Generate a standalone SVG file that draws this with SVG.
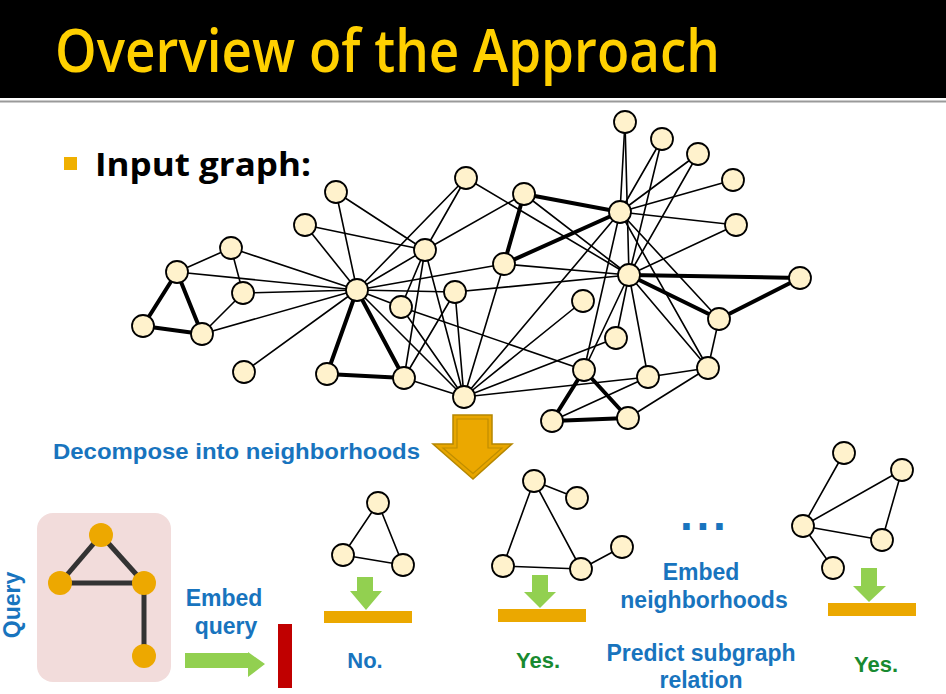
<svg xmlns="http://www.w3.org/2000/svg" width="946" height="694" viewBox="0 0 946 694">
  <defs>
    <style>
      .title { font-family: "Open Sans", "Noto Sans", sans-serif; font-weight: 600; fill: #FFD000; }
      .bullet { font-family: "Open Sans", "Liberation Sans", sans-serif; font-weight: 700; fill: #000; }
      .lbl { font-family: "Liberation Sans", Arial, sans-serif; font-weight: 700; font-size: 23px; fill: #1874BE; }
      .yes { font-family: "Liberation Sans", Arial, sans-serif; font-weight: 700; font-size: 22px; fill: #188A30; }
      .node circle, circle.nd { fill: #FFF2CC; stroke: #000; stroke-width: 1.8; }
      .edge { stroke: #000; stroke-width: 1.6; fill: none; stroke-linecap: round; }
      .thick { stroke: #000; stroke-width: 4; fill: none; stroke-linecap: round; }
      .qedge { stroke: #333; stroke-width: 5; fill: none; }
      .qnode { fill: #EDA800; }
      .bar { fill: #EBA800; }
      .garrow { fill: #92D050; }
    </style>
  </defs>

  <!-- title band -->
  <rect x="0" y="0" width="946" height="98" fill="#000"/>
  <line x1="0" y1="101.5" x2="946" y2="101.5" stroke="#9a9a9a" stroke-width="2"/>
  <text class="title" x="55" y="72" font-size="60" textLength="665" lengthAdjust="spacingAndGlyphs">Overview of the Approach</text>

  <!-- bullet -->
  <rect x="64" y="157" width="13" height="13" fill="#F0B000"/>
  <text class="bullet" x="95" y="176" font-size="32" textLength="216" lengthAdjust="spacingAndGlyphs">Input graph:</text>

  <!-- input graph connectors -->
  <g id="graph-edges">
    <line class="edge" x1="625" y1="122" x2="620" y2="212"/>
    <line class="edge" x1="625" y1="122" x2="629" y2="275"/>
    <line class="edge" x1="662" y1="139" x2="620" y2="212"/>
    <line class="edge" x1="662" y1="139" x2="629" y2="275"/>
    <line class="edge" x1="698" y1="154" x2="620" y2="212"/>
    <line class="edge" x1="698" y1="154" x2="629" y2="275"/>
    <line class="edge" x1="733" y1="180" x2="620" y2="212"/>
    <line class="edge" x1="736" y1="225" x2="620" y2="212"/>
    <line class="edge" x1="736" y1="225" x2="629" y2="275"/>
    <line class="edge" x1="620" y1="212" x2="584" y2="370"/>
    <line class="edge" x1="620" y1="212" x2="719" y2="319"/>
    <line class="edge" x1="620" y1="212" x2="708" y2="368"/>
    <line class="edge" x1="620" y1="212" x2="464" y2="397"/>
    <line class="edge" x1="629" y1="275" x2="616" y2="338"/>
    <line class="edge" x1="629" y1="275" x2="584" y2="370"/>
    <line class="edge" x1="629" y1="275" x2="648" y2="377"/>
    <line class="edge" x1="629" y1="275" x2="708" y2="368"/>
    <line class="edge" x1="629" y1="275" x2="524" y2="194"/>
    <line class="edge" x1="629" y1="275" x2="504" y2="264"/>
    <line class="edge" x1="629" y1="275" x2="466" y2="178"/>
    <line class="edge" x1="629" y1="275" x2="455" y2="292"/>
    <line class="edge" x1="719" y1="319" x2="708" y2="368"/>
    <line class="edge" x1="708" y1="368" x2="648" y2="377"/>
    <line class="edge" x1="708" y1="368" x2="628" y2="418"/>
    <line class="edge" x1="648" y1="377" x2="552" y2="421"/>
    <line class="edge" x1="648" y1="377" x2="464" y2="397"/>
    <line class="edge" x1="616" y1="338" x2="464" y2="397"/>
    <line class="edge" x1="583" y1="301" x2="464" y2="397"/>
    <line class="edge" x1="584" y1="370" x2="401" y2="307"/>
    <line class="edge" x1="524" y1="194" x2="425" y2="250"/>
    <line class="edge" x1="504" y1="264" x2="357" y2="290"/>
    <line class="edge" x1="504" y1="264" x2="464" y2="397"/>
    <line class="edge" x1="466" y1="178" x2="425" y2="250"/>
    <line class="edge" x1="466" y1="178" x2="357" y2="290"/>
    <line class="edge" x1="425" y1="250" x2="336" y2="192"/>
    <line class="edge" x1="425" y1="250" x2="305" y2="225"/>
    <line class="edge" x1="425" y1="250" x2="357" y2="290"/>
    <line class="edge" x1="425" y1="250" x2="401" y2="307"/>
    <line class="edge" x1="425" y1="250" x2="404" y2="378"/>
    <line class="edge" x1="425" y1="250" x2="464" y2="397"/>
    <line class="edge" x1="455" y1="292" x2="357" y2="290"/>
    <line class="edge" x1="455" y1="292" x2="464" y2="397"/>
    <line class="edge" x1="455" y1="292" x2="404" y2="378"/>
    <line class="edge" x1="401" y1="307" x2="357" y2="290"/>
    <line class="edge" x1="401" y1="307" x2="464" y2="397"/>
    <line class="edge" x1="464" y1="397" x2="357" y2="290"/>
    <line class="edge" x1="464" y1="397" x2="404" y2="378"/>
    <line class="edge" x1="357" y1="290" x2="336" y2="192"/>
    <line class="edge" x1="357" y1="290" x2="305" y2="225"/>
    <line class="edge" x1="357" y1="290" x2="231" y2="248"/>
    <line class="edge" x1="357" y1="290" x2="177" y2="272"/>
    <line class="edge" x1="357" y1="290" x2="243" y2="293"/>
    <line class="edge" x1="357" y1="290" x2="202" y2="334"/>
    <line class="edge" x1="357" y1="290" x2="244" y2="372"/>
    <line class="edge" x1="231" y1="248" x2="177" y2="272"/>
    <line class="edge" x1="231" y1="248" x2="243" y2="293"/>
    <line class="edge" x1="243" y1="293" x2="202" y2="334"/>
    <!-- heavy edges -->
    <line class="thick" x1="177" y1="272" x2="143" y2="326"/>
    <line class="thick" x1="177" y1="272" x2="202" y2="334"/>
    <line class="thick" x1="143" y1="326" x2="202" y2="334"/>
    <line class="thick" x1="357" y1="290" x2="327" y2="374"/>
    <line class="thick" x1="357" y1="290" x2="404" y2="378"/>
    <line class="thick" x1="327" y1="374" x2="404" y2="378"/>
    <line class="thick" x1="524" y1="194" x2="504" y2="264"/>
    <line class="thick" x1="524" y1="194" x2="620" y2="212"/>
    <line class="thick" x1="504" y1="264" x2="620" y2="212"/>
    <line class="thick" x1="629" y1="275" x2="800" y2="278"/>
    <line class="thick" x1="629" y1="275" x2="719" y2="319"/>
    <line class="thick" x1="800" y1="278" x2="719" y2="319"/>
    <line class="thick" x1="584" y1="370" x2="552" y2="421"/>
    <line class="thick" x1="584" y1="370" x2="628" y2="418"/>
    <line class="thick" x1="552" y1="421" x2="628" y2="418"/>
  </g>

  <!-- input graph nodes -->
  <g id="graph-nodes" class="node">
    <g id="v1"><circle cx="625" cy="122" r="11"/></g>
    <g id="v2"><circle cx="662" cy="139" r="11"/></g>
    <g id="v3"><circle cx="698" cy="154" r="11"/></g>
    <g id="v4"><circle cx="733" cy="180" r="11"/></g>
    <g id="v5"><circle cx="736" cy="225" r="11"/></g>
    <g id="v6"><circle cx="620" cy="212" r="11"/></g>
    <g id="v7"><circle cx="629" cy="275" r="11"/></g>
    <g id="v8"><circle cx="800" cy="278" r="11"/></g>
    <g id="v9"><circle cx="719" cy="319" r="11"/></g>
    <g id="v10"><circle cx="708" cy="368" r="11"/></g>
    <g id="v11"><circle cx="648" cy="377" r="11"/></g>
    <g id="v12"><circle cx="616" cy="338" r="11"/></g>
    <g id="v13"><circle cx="583" cy="301" r="11"/></g>
    <g id="v14"><circle cx="584" cy="370" r="11"/></g>
    <g id="v15"><circle cx="552" cy="421" r="11"/></g>
    <g id="v16"><circle cx="628" cy="418" r="11"/></g>
    <g id="v17"><circle cx="524" cy="194" r="11"/></g>
    <g id="v18"><circle cx="504" cy="264" r="11"/></g>
    <g id="v19"><circle cx="466" cy="178" r="11"/></g>
    <g id="v20"><circle cx="425" cy="250" r="11"/></g>
    <g id="v21"><circle cx="455" cy="292" r="11"/></g>
    <g id="v22"><circle cx="401" cy="307" r="11"/></g>
    <g id="v23"><circle cx="464" cy="397" r="11"/></g>
    <g id="v24"><circle cx="357" cy="290" r="11"/></g>
    <g id="v25"><circle cx="336" cy="192" r="11"/></g>
    <g id="v26"><circle cx="305" cy="225" r="11"/></g>
    <g id="v27"><circle cx="231" cy="248" r="11"/></g>
    <g id="v28"><circle cx="177" cy="272" r="11"/></g>
    <g id="v29"><circle cx="243" cy="293" r="11"/></g>
    <g id="v30"><circle cx="143" cy="326" r="11"/></g>
    <g id="v31"><circle cx="202" cy="334" r="11"/></g>
    <g id="v32"><circle cx="244" cy="372" r="11"/></g>
    <g id="v33"><circle cx="327" cy="374" r="11"/></g>
    <g id="v34"><circle cx="404" cy="378" r="11"/></g>
  </g>

  <!-- big decomposition arrow -->
  <g id="decompose-arrow">
    <polygon points="453,415 492,415 492,444 512,444 473,479 433,444 453,444" fill="#E8A600" stroke="#B58700" stroke-width="1.5"/>
    <polygon points="457,419 488,419 488,448 502,448 473,473.5 443,448 457,448" fill="#EBA800" stroke="#C08E00" stroke-width="1.2"/>
  </g>
  <text class="lbl" x="53" y="459" style="font-size:22px" textLength="367" lengthAdjust="spacingAndGlyphs">Decompose into neighborhoods</text>

  <!-- query -->
  <g id="query">
    <rect x="37" y="513" width="134" height="169" rx="16" fill="#F2DCDB"/>
    <line class="qedge" x1="101" y1="535" x2="60" y2="583"/>
    <line class="qedge" x1="101" y1="535" x2="144" y2="583"/>
    <line class="qedge" x1="60" y1="583" x2="144" y2="583"/>
    <line class="qedge" x1="144" y1="583" x2="144" y2="656"/>
    <circle class="qnode" cx="101" cy="535" r="12"/>
    <circle class="qnode" cx="60" cy="583" r="12"/>
    <circle class="qnode" cx="144" cy="583" r="12"/>
    <circle class="qnode" cx="144" cy="656" r="12"/>
  </g>
  <text class="lbl" x="0" y="0" text-anchor="middle" transform="translate(20,605) rotate(-90)">Query</text>

  <!-- embed query -->
  <g id="embed-query">
    <text class="lbl" x="224" y="606" text-anchor="middle">Embed</text>
    <text class="lbl" x="226" y="634" text-anchor="middle">query</text>
    <polygon class="garrow" points="185,653 248,653 248,652 265,664 248,677 248,668 185,668"/>
    <rect x="278" y="624" width="14" height="64" fill="#C00000"/>
  </g>

  <!-- neighborhood 1 -->
  <g id="nbhd-1">
    <line class="edge" x1="378" y1="503" x2="343" y2="555"/>
    <line class="edge" x1="378" y1="503" x2="403" y2="565"/>
    <line class="edge" x1="343" y1="555" x2="403" y2="565"/>
    <circle class="nd" cx="378" cy="503" r="11"/>
    <circle class="nd" cx="343" cy="555" r="11"/>
    <circle class="nd" cx="403" cy="565" r="11"/>
    <polygon class="garrow" points="357,577 373,577 373,591 382,591 366,610 350,591 357,591"/>
    <rect class="bar" x="324" y="611" width="88" height="12"/>
    <text class="lbl" x="365" y="668" text-anchor="middle" style="font-size:22px">No.</text>
  </g>

  <!-- neighborhood 2 -->
  <g id="nbhd-2">
    <line class="edge" x1="534" y1="481" x2="577" y2="498"/>
    <line class="edge" x1="534" y1="481" x2="503" y2="566"/>
    <line class="edge" x1="534" y1="481" x2="581" y2="569"/>
    <line class="edge" x1="503" y1="566" x2="581" y2="569"/>
    <line class="edge" x1="581" y1="569" x2="622" y2="547"/>
    <circle class="nd" cx="534" cy="481" r="11"/>
    <circle class="nd" cx="577" cy="498" r="11"/>
    <circle class="nd" cx="503" cy="566" r="11"/>
    <circle class="nd" cx="581" cy="569" r="11"/>
    <circle class="nd" cx="622" cy="547" r="11"/>
    <polygon class="garrow" points="532,575 548,575 548,592 556,592 540,608 524,592 532,592"/>
    <rect class="bar" x="498" y="609" width="88" height="13"/>
    <text class="yes" x="538" y="668" text-anchor="middle">Yes.</text>
  </g>

  <!-- middle labels -->
  <g id="middle-labels">
    <text class="lbl" x="680" y="529.5" style="font-size:46px" letter-spacing="3.7">...</text>
    <text class="lbl" x="701" y="580" text-anchor="middle">Embed</text>
    <text class="lbl" x="704" y="608" text-anchor="middle">neighborhoods</text>
    <text class="lbl" x="701" y="661" text-anchor="middle">Predict subgraph</text>
    <text class="lbl" x="701" y="688" text-anchor="middle">relation</text>
  </g>

  <!-- neighborhood 3 -->
  <g id="nbhd-3">
    <line class="edge" x1="803" y1="526" x2="844" y2="453"/>
    <line class="edge" x1="803" y1="526" x2="902" y2="470"/>
    <line class="edge" x1="902" y1="470" x2="882" y2="540"/>
    <line class="edge" x1="803" y1="526" x2="882" y2="540"/>
    <line class="edge" x1="803" y1="526" x2="833" y2="568"/>
    <circle class="nd" cx="844" cy="453" r="11"/>
    <circle class="nd" cx="902" cy="470" r="11"/>
    <circle class="nd" cx="803" cy="526" r="11"/>
    <circle class="nd" cx="882" cy="540" r="11"/>
    <circle class="nd" cx="833" cy="568" r="11"/>
    <polygon class="garrow" points="861,568 877,568 877,586 886,586 869,602 853,586 861,586"/>
    <rect class="bar" x="828" y="603" width="88" height="13"/>
    <text class="yes" x="876" y="672" text-anchor="middle">Yes.</text>
  </g>
</svg>
